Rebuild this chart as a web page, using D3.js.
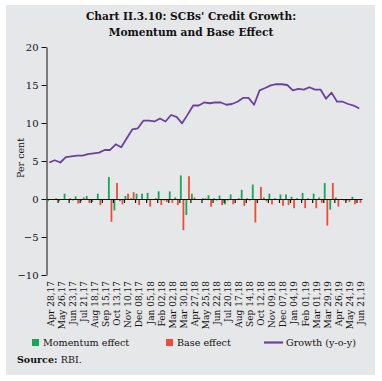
<!DOCTYPE html>
<html><head><meta charset="utf-8">
<script src="https://cdn.jsdelivr.net/npm/d3@7"></script>
<style>body{margin:0;background:#fff}svg{display:block}text{font-family:"DejaVu Serif",serif;fill:#111}</style>
</head><body>
<script>
const categories=["Apr 28,17","May 12,17","May 26,17","Jun 09,17","Jun 23,17","Jul 07,17","Jul 21,17","Aug 04,17","Aug 18,17","Sep 01,17","Sep 15,17","Sep 29,17","Oct 13,17","Oct 27,17","Nov 10,17","Nov 24,17","Dec 08,17","Dec 22,17","Jan 05,18","Jan 19,18","Feb 02,18","Feb 16,18","Mar 02,18","Mar 16,18","Mar 30,18","Apr 13,18","Apr 27,18","May 11,18","May 25,18","Jun 08,18","Jun 22,18","Jul 06,18","Jul 20,18","Aug 03,18","Aug 17,18","Aug 31,18","Sep 14,18","Sep 28,18","Oct 12,18","Oct 26,18","Nov 09,18","Nov 23,18","Dec 07,18","Dec 21,18","Jan 04,19","Jan 18,19","Feb 01,19","Feb 15,19","Mar 01,19","Mar 15,19","Mar 29,19","Apr 12,19","Apr 26,19","May 10,19","May 24,19","Jun 07,19","Jun 21,19"];
const momentum=[-0.3,-0.1,-0.3,0.7,0.1,0.35,-0.3,0.4,-0.4,0.7,0.0,2.9,-1.5,-0.3,0.4,0.1,0.7,0.7,0.8,-0.1,1.0,-0.2,1.0,0.2,3.1,-2.1,0.7,0.0,0.1,0.5,0.1,0.45,-0.7,0.6,0.0,1.2,0.1,1.9,0.0,0.2,0.7,0.1,0.6,0.6,0.3,0.1,0.8,0.1,0.7,0.2,2.1,-1.4,0.2,0.0,-0.2,0.3,-0.1];
const base=[-0.1,0.1,-0.1,0.0,-0.2,-0.6,0.2,-0.5,0.0,-0.8,-0.1,-3.0,2.1,-0.7,0.7,0.9,-0.8,-0.1,-1.0,0.1,-0.8,-0.4,-0.5,-0.8,-4.1,3.0,0.2,-0.1,0.1,-1.0,-0.2,-0.8,-0.2,-0.7,0.1,-0.9,-0.2,-3.1,1.6,-0.3,-0.7,-0.1,-0.9,-0.8,-1.2,0.0,-1.2,-0.1,-1.2,-0.5,-3.5,2.1,-1.0,-0.2,-0.4,-0.7,-0.5];
const growth=[4.8,5.1,4.8,5.5,5.6,5.7,5.7,5.9,6.0,6.1,6.45,6.45,7.2,6.8,8.0,9.15,9.3,10.3,10.3,10.2,10.6,10.2,11.05,10.8,9.96,11.1,12.3,12.3,12.7,12.6,12.7,12.7,12.4,12.5,12.8,13.3,13.3,12.4,14.3,14.6,14.95,15.1,15.1,15.0,14.3,14.5,14.4,14.7,14.4,14.4,13.2,14.0,12.8,12.8,12.5,12.3,11.9];
const yTicks=[-10,-5,0,5,10,15,20];
const series=["Momentum effect","Base effect","Growth (y-o-y)"];
const colors={"Momentum effect":"#17a65a","Base effect":"#f04b35","Growth (y-o-y)":"#6a429e"};

const W=382,H=381;
const svg=d3.select("body").append("svg").attr("width",W).attr("height",H);
svg.append("rect").attr("x",6).attr("y",5).attr("width",369).attr("height",370).attr("fill","#e6e7e8");

svg.append("text").attr("x",191).attr("y",20).attr("text-anchor","middle").attr("font-weight","bold").attr("font-size",10.6).text("Chart II.3.10: SCBs' Credit Growth:");
svg.append("text").attr("x",191).attr("y",36).attr("text-anchor","middle").attr("font-weight","bold").attr("font-size",10.6).text("Momentum and Base Effect");

const x0=46.5,x1=362;
const x=d3.scaleBand().domain(d3.range(categories.length)).range([x0,x1]).padding(0);
const xi=d3.scaleLinear().domain([0,categories.length]).range([x0,x1]);
const xs=d3.scaleBand().domain(["m","b"]).range([0,x.bandwidth()]).paddingInner(0.31).paddingOuter(0.22);
const y=d3.scaleLinear().domain([-10,20]).range([275,47]);

// y axis
const ya=svg.append("g").attr("transform",`translate(${x0},0)`).call(d3.axisLeft(y).tickValues(yTicks).tickSizeInner(5).tickSizeOuter(0).tickPadding(3));
ya.selectAll("text").attr("font-size",10).style("font-family","'DejaVu Serif',serif");
ya.selectAll("line,path").attr("stroke","#111");

svg.append("text").attr("transform","translate(24,158) rotate(-90)").attr("text-anchor","middle").attr("font-size",9.5).text("Per cent");

// bars
const g=svg.append("g");
g.selectAll("rect.m").data(momentum).join("rect").attr("class","m")
 .attr("x",(d,i)=>x(i)+xs("m")).attr("width",xs.bandwidth())
 .attr("y",d=>y(Math.max(0,d))).attr("height",d=>Math.abs(y(d)-y(0))).attr("fill",colors["Momentum effect"]);
g.selectAll("rect.b").data(base).join("rect").attr("class","b")
 .attr("x",(d,i)=>x(i)+xs("b")).attr("width",xs.bandwidth())
 .attr("y",d=>y(Math.max(0,d))).attr("height",d=>Math.abs(y(d)-y(0))).attr("fill",colors["Base effect"]);

// zero axis with ticks
const za=svg.append("g").attr("transform",`translate(0,${y(0)})`).call(d3.axisBottom(xi).tickValues(d3.range(2,categories.length,2)).tickSizeInner(4).tickSizeOuter(0).tickFormat(""));
za.selectAll("line,path").attr("stroke","#111").attr("stroke-width",1.2);

// line
const line=d3.line().x((d,i)=>x(i)+x.bandwidth()/2).y(d=>y(d));
svg.append("path").datum(growth).attr("d",line).attr("fill","none").attr("stroke",colors["Growth (y-o-y)"]).attr("stroke-width",1.8).attr("stroke-linejoin","round");

// x labels
const xa=svg.append("g").attr("transform",`translate(0,${y(-10)})`).call(d3.axisBottom(x).tickValues(d3.range(0,categories.length,2)).tickFormat(i=>categories[i]).tickSize(0));
xa.select(".domain").remove();
xa.selectAll("text").attr("font-size",9).style("font-family","'DejaVu Serif',serif")
 .attr("text-anchor","end").attr("transform","rotate(-90)").attr("x",-6).attr("y",1.5).attr("dy","0.35em");

// legend
const lg=svg.append("g").attr("font-size",9.6);
lg.append("rect").attr("x",32).attr("y",339).attr("width",7).attr("height",7).attr("fill",colors["Momentum effect"]);
lg.append("text").attr("x",43).attr("y",346).text(series[0]);
lg.append("rect").attr("x",166).attr("y",339).attr("width",7).attr("height",7).attr("fill",colors["Base effect"]);
lg.append("text").attr("x",177).attr("y",346).text(series[1]);
lg.append("line").attr("x1",264).attr("x2",283).attr("y1",342.5).attr("y2",342.5).attr("stroke",colors["Growth (y-o-y)"]).attr("stroke-width",2.2);
lg.append("text").attr("x",286).attr("y",346).text(series[2]);

const src=svg.append("text").attr("x",17).attr("y",363).attr("font-size",9.5);
src.append("tspan").attr("font-weight","bold").text("Source: ");
src.append("tspan").text("RBI.");
</script>
</body></html>
